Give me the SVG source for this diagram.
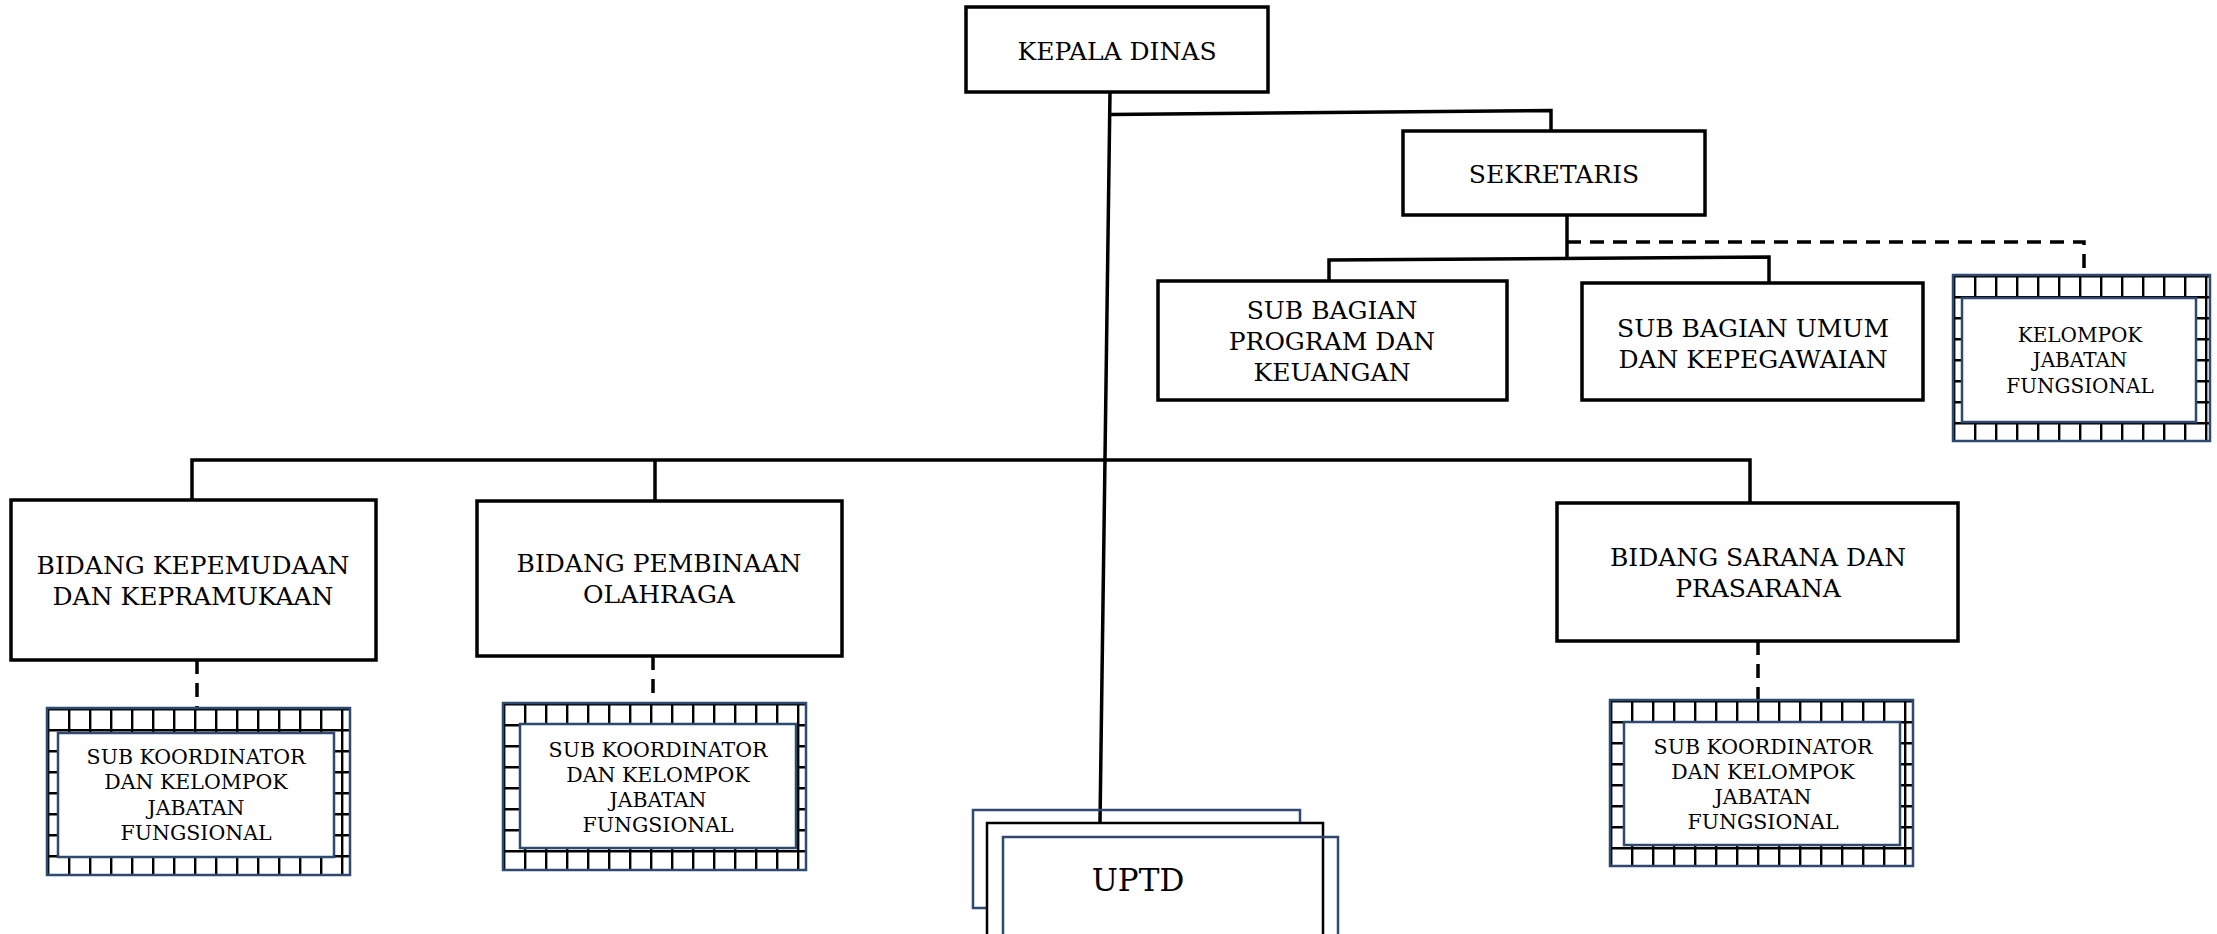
<svg xmlns="http://www.w3.org/2000/svg" width="2217" height="934" viewBox="0 0 2217 934">
<style>
.box{fill:#fff;stroke:#000;stroke-width:3.5}
.t{font-family:"DejaVu Serif","Liberation Serif",serif;font-size:25px;fill:#000;text-anchor:middle}
.ts{font-family:"DejaVu Serif","Liberation Serif",serif;font-size:20.5px;fill:#000;text-anchor:middle}
.tk{font-family:"DejaVu Serif","Liberation Serif",serif;font-size:20px;fill:#000;text-anchor:middle}
.tu{font-family:"DejaVu Serif","Liberation Serif",serif;font-size:31px;fill:#000;text-anchor:middle}
.pat{fill:url(#grid);stroke:#2E4A6E;stroke-width:2.5}
.inner{fill:#fff;stroke:#2E4A6E;stroke-width:2.5}
.ln{fill:none;stroke:#000;stroke-width:3.5}
.dash{fill:none;stroke:#000;stroke-width:3.5;stroke-dasharray:14 9}
</style>
<defs>
<pattern id="grid" patternUnits="userSpaceOnUse" width="21" height="21">
<rect width="21" height="21" fill="#fff"/>
<path d="M0 1.2H21M1.2 0V21" stroke="#000" stroke-width="2.4"/>
</pattern>
</defs>
<g id="connectors">
<path class="ln" d="M1110 92L1100 823"/>
<path class="ln" d="M1110 114.5L1551 110.5V131"/>
<path class="ln" d="M1567 215V259"/>
<path class="ln" d="M1329 281V260L1769 257V283"/>
<path class="dash" d="M1567 242H2084V275"/>
<path class="ln" d="M192 500V460H1750V503M655 460V501"/>
<path class="dash" d="M197 660V708"/>
<path class="dash" d="M653 656V703"/>
<path class="dash" d="M1758 641V700"/>
</g>
<g id="kepala-dinas">
<rect class="box" x="966" y="7" width="302" height="85"/>
<text class="t" x="1117" y="60">KEPALA DINAS</text>
</g>
<g id="sekretaris">
<rect class="box" x="1403" y="131" width="302" height="84"/>
<text class="t" x="1554" y="183">SEKRETARIS</text>
</g>
<g id="subbag-program">
<rect class="box" x="1158" y="281" width="349" height="119"/>
<text class="t" x="1332" y="319">SUB BAGIAN</text>
<text class="t" x="1332" y="350">PROGRAM DAN</text>
<text class="t" x="1332" y="381">KEUANGAN</text>
</g>
<g id="subbag-umum">
<rect class="box" x="1582" y="283" width="341" height="117"/>
<text class="t" x="1753" y="337">SUB BAGIAN UMUM</text>
<text class="t" x="1753" y="368">DAN KEPEGAWAIAN</text>
</g>
<g id="kelompok-jf" transform="translate(1953,275)">
<rect class="pat" width="257" height="166"/>
<rect class="inner" x="9" y="23" width="234" height="124"/>
<text class="tk" x="127" y="67">KELOMPOK</text>
<text class="tk" x="127" y="92">JABATAN</text>
<text class="tk" x="127" y="118">FUNGSIONAL</text>
</g>
<g id="bidang-kepemudaan">
<rect class="box" x="11" y="500" width="365" height="160"/>
<text class="t" x="193" y="574">BIDANG KEPEMUDAAN</text>
<text class="t" x="193" y="605">DAN KEPRAMUKAAN</text>
</g>
<g id="bidang-pembinaan">
<rect class="box" x="477" y="501" width="365" height="155"/>
<text class="t" x="659" y="572">BIDANG PEMBINAAN</text>
<text class="t" x="659" y="603">OLAHRAGA</text>
</g>
<g id="bidang-sarana">
<rect class="box" x="1557" y="503" width="401" height="138"/>
<text class="t" x="1758" y="566">BIDANG SARANA DAN</text>
<text class="t" x="1758" y="597">PRASARANA</text>
</g>
<g id="subkoor-1" transform="translate(47,708)">
<rect class="pat" width="303" height="167"/>
<rect class="inner" x="11" y="25" width="276" height="124"/>
<text class="ts" x="149" y="56">SUB KOORDINATOR</text>
<text class="ts" x="149" y="81">DAN KELOMPOK</text>
<text class="ts" x="149" y="107">JABATAN</text>
<text class="ts" x="149" y="132">FUNGSIONAL</text>
</g>
<g id="subkoor-2" transform="translate(503,703)">
<rect class="pat" width="303" height="167"/>
<rect class="inner" x="17" y="21" width="276" height="124"/>
<text class="ts" x="155" y="54">SUB KOORDINATOR</text>
<text class="ts" x="155" y="79">DAN KELOMPOK</text>
<text class="ts" x="155" y="104">JABATAN</text>
<text class="ts" x="155" y="129">FUNGSIONAL</text>
</g>
<g id="subkoor-3" transform="translate(1610,700)">
<rect class="pat" width="303" height="166"/>
<rect class="inner" x="14" y="22" width="276" height="123"/>
<text class="ts" x="153" y="54">SUB KOORDINATOR</text>
<text class="ts" x="153" y="79">DAN KELOMPOK</text>
<text class="ts" x="153" y="104">JABATAN</text>
<text class="ts" x="153" y="129">FUNGSIONAL</text>
</g>
<g id="uptd">
<rect x="973" y="810" width="327" height="98" fill="none" stroke="#2E4A6E" stroke-width="2.5"/>
<rect x="987" y="823" width="336" height="130" fill="#fff" stroke="#000" stroke-width="2.5"/>
<rect x="1003" y="837" width="335" height="120" fill="none" stroke="#2E4A6E" stroke-width="2.5"/>
<text class="tu" x="1138" y="891">UPTD</text>
</g>
</svg>
